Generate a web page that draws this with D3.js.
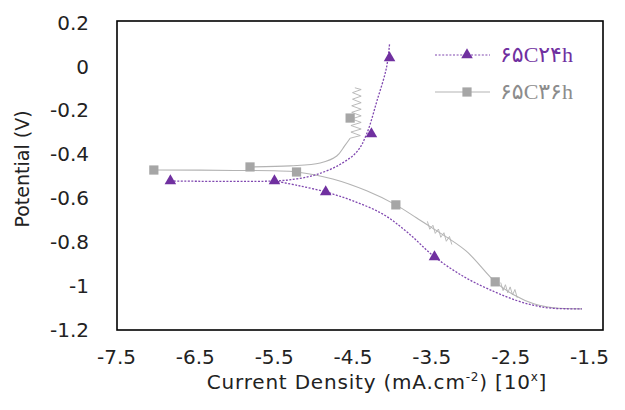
<!DOCTYPE html>
<html>
<head>
<meta charset="utf-8">
<style>
	body { margin: 0; padding: 0; background: #fff; }
	svg { display: block; background: #fff; }
</style>
<script src="https://cdnjs.cloudflare.com/ajax/libs/d3/7.8.5/d3.min.js"></script>
</head>
<body>
<svg width="625" height="410"></svg>
<script>
	// tick values
	const xTicks = [-7.5, -6.5, -5.5, -4.5, -3.5, -2.5, -1.5];
	const yTicks = [0.2, 0, -0.2, -0.4, -0.6, -0.8, -1, -1.2];

	// 65C24h (purple, triangles) : [log i, E]
	const c24Anodic = [[-6.81,-0.525],[-5.49,-0.525],[-5.2,-0.515],[-4.95,-0.495],[-4.66,-0.45],[-4.44,-0.39],[-4.32,-0.31],[-4.19,-0.16],[-4.07,-0.01],[-4.03,0.10]];
	const c24Cathodic = [[-5.49,-0.525],[-5.2,-0.545],[-4.84,-0.575],[-4.5,-0.615],[-4.12,-0.675],[-3.8,-0.76],[-3.46,-0.871],[-3.06,-0.967],[-2.7,-1.03],[-2.42,-1.07],[-2.2,-1.092],[-1.98,-1.105],[-1.59,-1.108]];
	const c24Markers = [[-6.81,-0.525],[-5.49,-0.525],[-4.84,-0.575],[-3.46,-0.871],[-4.26,-0.31],[-4.03,0.036]];

	// 65C36h (grey, squares)
	const c36Cathodic = [[-7.02,-0.475],[-6.0,-0.477],[-5.21,-0.484],[-4.75,-0.516],[-4.32,-0.57],[-3.95,-0.634],[-3.69,-0.693],[-3.49,-0.739],[-3.06,-0.844],[-2.69,-0.985],[-2.45,-1.045],[-2.2,-1.085],[-1.95,-1.103],[-1.59,-1.108]];
	const c36Anodic = [[-5.8,-0.461],[-5.29,-0.456],[-4.91,-0.443],[-4.7,-0.411],[-4.6,-0.365],[-4.53,-0.33]];
	const c36Zigzag = [[-4.53,-0.33],[-4.40,-0.318],[-4.52,-0.302],[-4.39,-0.288],[-4.52,-0.272],[-4.39,-0.258],[-4.51,-0.242],[-4.39,-0.228],[-4.51,-0.212],[-4.39,-0.198],[-4.51,-0.182],[-4.39,-0.168],[-4.5,-0.152],[-4.39,-0.138],[-4.5,-0.122],[-4.39,-0.108],[-4.47,-0.1]];
	const c36Noise1 = [[-3.55,-0.709],[-3.52,-0.745],[-3.48,-0.727],[-3.45,-0.764],[-3.41,-0.744],[-3.38,-0.782],[-3.34,-0.761],[-3.31,-0.8],[-3.27,-0.778],[-3.24,-0.815]];
	const c36Noise2 = [[-2.62,-0.988],[-2.59,-1.025],[-2.56,-0.998],[-2.53,-1.035],[-2.5,-1.008],[-2.47,-1.045],[-2.44,-1.02],[-2.41,-1.058]];
	const c36Markers = [[-7.02,-0.475],[-5.8,-0.461],[-5.21,-0.484],[-3.95,-0.634],[-2.69,-0.985],[-4.53,-0.238]];

	const seriesNames = ['۶۵C۲۴h', '۶۵C۳۶h'];
	const purple = '#7030a0', grey = '#a6a6a6', greyLine = '#b3b3b3';
	const font = '"DejaVu Sans", sans-serif';

	const svg = d3.select('svg');
	const x = d3.scaleLinear().domain([-7.5, -1.5]).range([116, 589]);
	const y = d3.scaleLinear().domain([-1.2, 0.2]).range([329, 22]);
	const fmt = d => String(+d.toFixed(1));   // plain hyphen minus, like the original

	// plot frame
	svg.append('rect')
		.attr('x', 117).attr('y', 21).attr('width', 486).attr('height', 309)
		.attr('fill', 'none').attr('stroke', '#000').attr('stroke-width', 1.6);

	// axes (labels only)
	const gx = svg.append('g').attr('transform', 'translate(0,364)')
		.call(d3.axisBottom(x).tickValues(xTicks).tickSize(0).tickPadding(0).tickFormat(fmt));
	gx.select('.domain').remove();
	gx.selectAll('text').attr('font-family', font).attr('font-size', 20).attr('fill', '#222').attr('dy', '0');

	const gy = svg.append('g').attr('transform', 'translate(89,0)')
		.call(d3.axisLeft(y).tickValues(yTicks).tickSize(0).tickPadding(0).tickFormat(fmt));
	gy.select('.domain').remove();
	gy.selectAll('text').attr('font-family', font).attr('font-size', 20).attr('fill', '#222').attr('dy', '0.36em');

	// axis titles
	const xt = svg.append('text').attr('x', 377).attr('y', 389).attr('text-anchor', 'middle')
		.attr('font-family', font).attr('font-size', 20).attr('fill', '#222').attr('letter-spacing', 0.8);
	xt.append('tspan').text('Current Density (mA.cm');
	xt.append('tspan').attr('dy', -8).attr('font-size', 12).text('-2');
	xt.append('tspan').attr('dy', 8).text(') [10');
	xt.append('tspan').attr('dy', -8).attr('font-size', 12).text('x');
	xt.append('tspan').attr('dy', 8).text(']');

	svg.append('text').attr('transform', 'translate(29,169) rotate(-90)')
		.attr('text-anchor', 'middle').attr('font-family', font)
		.attr('font-size', 19).attr('fill', '#222').text('Potential (V)');

	const smooth = d3.line().x(d => x(d[0])).y(d => y(d[1])).curve(d3.curveCatmullRom.alpha(0.5));
	const straight = d3.line().x(d => x(d[0])).y(d => y(d[1]));

	// grey series
	[c36Cathodic, c36Anodic].forEach(s => svg.append('path').attr('d', smooth(s))
		.attr('fill', 'none').attr('stroke', greyLine).attr('stroke-width', 1.1));
	[c36Zigzag, c36Noise1, c36Noise2].forEach(s => svg.append('path').attr('d', straight(s))
		.attr('fill', 'none').attr('stroke', greyLine).attr('stroke-width', 0.9));

	// purple series
	[c24Anodic, c24Cathodic].forEach(s => svg.append('path').attr('d', smooth(s))
		.attr('fill', 'none').attr('stroke', '#8048b0').attr('stroke-width', 1.3)
		.attr('stroke-dasharray', '2,1.5'));

	const tri = d3.symbol().type(d3.symbolTriangle).size(58);
	const sq = d3.symbol().type(d3.symbolSquare).size(85);

	svg.append('g').selectAll('path').data(c36Markers).join('path')
		.attr('d', sq).attr('transform', d => `translate(${x(d[0])},${y(d[1])})`).attr('fill', grey);
	svg.append('g').selectAll('path').data(c24Markers).join('path')
		.attr('d', tri).attr('transform', d => `translate(${x(d[0])},${y(d[1])})`).attr('fill', purple);

	// legend
	const legend = [
		{ name: seriesNames[0], color: '#8048b0', dash: '2,1.6', sym: tri, fill: purple, text: purple, ly: 55 },
		{ name: seriesNames[1], color: greyLine, dash: null, sym: sq, fill: grey, text: '#8c8c8c', ly: 92 }
	];
	const lg = svg.append('g').selectAll('g').data(legend).join('g');
	lg.append('line').attr('x1', 435).attr('x2', 490).attr('y1', d => d.ly).attr('y2', d => d.ly)
		.attr('stroke', d => d.color).attr('stroke-width', 1.1).attr('stroke-dasharray', d => d.dash);
	lg.append('path').attr('d', d => d.sym()).attr('transform', d => `translate(467,${d.ly})`).attr('fill', d => d.fill);
	lg.append('text').attr('x', 500).attr('y', d => d.ly + 7)
		.attr('font-family', '"Liberation Serif", "DejaVu Sans", serif')
		.attr('font-size', 22).attr('fill', d => d.text).text(d => d.name);
</script>
</body>
</html>
